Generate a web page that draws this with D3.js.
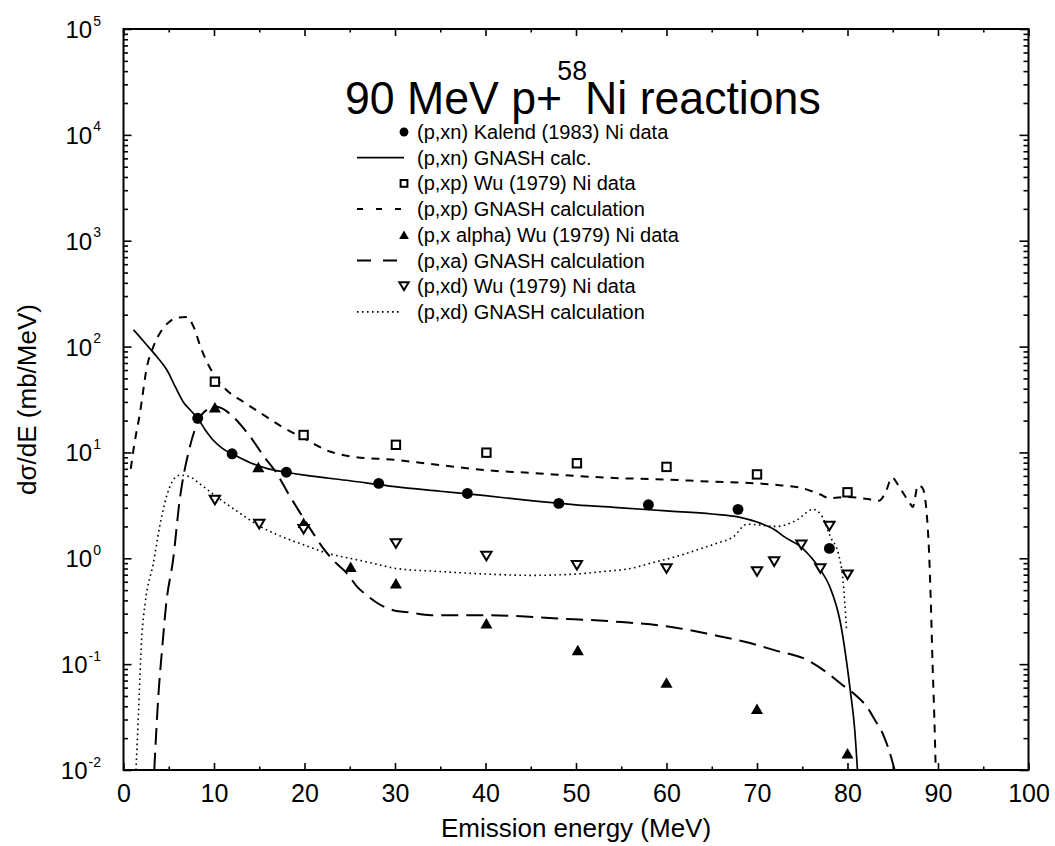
<!DOCTYPE html>
<html><head><meta charset="utf-8">
<script src="https://cdn.jsdelivr.net/npm/d3@7/dist/d3.min.js"></script>
<style>
body{margin:0;background:#fff;}
text{font-family:"Liberation Sans",Arial,Helvetica,sans-serif;fill:#000;}
</style>
</head><body>
<svg id="c" width="1055" height="846"></svg>
<script>
// ---- data ----
// (p,xn) Kalend (1983) Ni data
const knE = [8.2, 12, 18, 28.2, 38, 48.1, 58, 67.9, 78];
const knV = [21, 9.7, 6.5, 5.1, 4.1, 3.3, 3.2, 2.9, 1.24];
// (p,xp) Wu (1979)
const wpE = [10.1, 19.9, 30.1, 40.1, 50.1, 60, 70, 80];
const wpV = [46.6, 14.6, 11.8, 9.95, 7.9, 7.3, 6.2, 4.2];
// (p,x alpha) Wu (1979)
const waE = [10.1, 14.9, 19.9, 25.1, 30.1, 40.1, 50.2, 60, 70, 80];
const waV = [26.7, 7.3, 2.17, 0.83, 0.58, 0.243, 0.136, 0.067, 0.038, 0.0144];
// (p,xd) Wu (1979)
const wdE = [10.1, 15, 19.9, 30.1, 40.1, 50.1, 60, 70, 71.9, 74.9, 77, 78, 80];
const wdV = [3.55, 2.1, 1.88, 1.38, 1.05, 0.86, 0.80, 0.75, 0.93, 1.34, 0.80, 2.02, 0.70];

// GNASH calculations
const gnE = [1.1,2,2.9,3.8,4.8,5.7,6.6,7.4,8.2,9,9.9,11,12,14,16,18,20,25,30,35,40,45,50,55,60,65,68,70,72,73,75,77,78,79.2,80.3,80.8,81.1];
const gnV = [144,118,96,78,60,42,30,25,21,16.5,13.1,10.8,9.7,8,7,6.5,6.1,5.4,4.75,4.3,3.9,3.5,3.2,3.0,2.8,2.62,2.45,2.2,1.85,1.6,1.25,0.78,0.55,0.25,0.057,0.024,0.01];

const gpE = [0.8,1.2,1.8,2.6,3.3,4,5,6,7,7.8,8.5,10,11.5,13,15,17.5,20,22.8,25,30,35,40,45,50,55,58.5,65,70,72.5,75,77,78,80,82,83.5,84.3,84.9,85.8,86.9,87.2,87.8,88.3,88.75,89.0,89.2,89.4,89.6,89.75];
const gpV = [7,12,23,65,100,133,170,188,190,150,100,54,38,31,24,17.5,13.5,10.2,9.2,8.5,7.6,6.8,6.4,6.0,5.7,5.6,5.3,5.1,4.9,4.6,4.0,3.7,3.8,3.65,3.5,4.4,5.8,4.6,3.3,3.05,4.9,4.6,2.66,1.2,0.4,0.1,0.03,0.01];

const gaE = [3.4,3.85,4.3,4.7,5.5,6.2,7.3,8.4,9.5,10.3,11.8,13,14.3,15.5,16.9,18.2,19.5,21,22.2,23.5,24.7,25.8,27,28,30,31.3,34,40,48,55,60,65,69,72,75.5,78,79.2,81,82.1,83,84,84.9,85.2];
const gaV = [0.01,0.05,0.15,0.36,1.0,3.5,11,21,26,27,23,18,13,9.2,6.4,4.1,2.7,1.7,1.2,0.9,0.72,0.54,0.44,0.38,0.32,0.31,0.29,0.29,0.27,0.25,0.228,0.19,0.16,0.135,0.11,0.08,0.066,0.05,0.04,0.03,0.021,0.0125,0.01];

const gdE = [1.38,1.64,2.0,2.4,3.3,4.0,5.1,6.2,7.3,8.5,10.3,12.5,15.1,17.5,19.5,22.8,25,27.5,30.2,35,40,45,50,53,56,58.9,60,62,64,65.5,67.4,68.9,70.5,72.2,74.4,76.2,77.3,78.1,79,79.5,79.9];
const gdV = [0.01,0.032,0.17,0.38,0.9,2.0,4.7,6.1,5.9,5.0,3.8,2.8,2.0,1.6,1.38,1.1,1.0,0.9,0.8,0.75,0.71,0.69,0.71,0.75,0.8,0.93,0.98,1.1,1.25,1.38,1.6,2.1,2.05,2.0,2.3,2.9,2.4,1.6,1.1,0.62,0.21];

// ticks
const xMajor = [0,10,20,30,40,50,60,70,80,90,100];
const xMinor = [5,15,25,35,45,55,65,75,85,95];
const yExp = [-2,-1,0,1,2,3,4,5];
const yMajor = yExp.map(e => Math.pow(10, e));
const yMinor = [];
yExp.slice(0, -1).forEach(e => { for (let k = 2; k <= 9; k++) yMinor.push(k * Math.pow(10, e)); });

const legendLabels = [
  "(p,xn) Kalend (1983) Ni data",
  "(p,xn) GNASH calc.",
  "(p,xp) Wu (1979) Ni data",
  "(p,xp) GNASH calculation",
  "(p,x alpha) Wu (1979) Ni data",
  "(p,xa) GNASH calculation",
  "(p,xd) Wu (1979) Ni data",
  "(p,xd) GNASH calculation"
];

// ---- drawing ----
const L = 123.5, R = 1028.5, T = 29, B = 770;
const x = d3.scaleLinear().domain([0, 100]).range([L, R]);
const y = d3.scaleLog().domain([1e-2, 1e5]).range([B, T]);
const svg = d3.select("#c");

svg.append("defs").append("clipPath").attr("id", "clip")
  .append("rect").attr("x", L).attr("y", T).attr("width", R - L).attr("height", B - T);

function axisStyle(g) {
  g.select(".domain").remove();
  g.selectAll(".tick line").attr("stroke", "#000").attr("stroke-width", 1.6);
}

// bottom
svg.append("g").attr("transform", `translate(0,${B})`)
  .call(d3.axisBottom(x).tickValues(xMajor).tickSize(-7).tickSizeOuter(0).tickPadding(14).tickFormat(d => d))
  .call(axisStyle)
  .call(g => g.selectAll(".tick text").attr("font-size", 25).attr("font-family", "Liberation Sans, Arial, sans-serif"));
svg.append("g").attr("transform", `translate(0,${B})`)
  .call(d3.axisBottom(x).tickValues(xMinor).tickSize(-3.5).tickSizeOuter(0).tickFormat(""))
  .call(axisStyle);
// top
svg.append("g").attr("transform", `translate(0,${T})`)
  .call(d3.axisTop(x).tickValues(xMajor).tickSize(-7).tickSizeOuter(0).tickFormat(""))
  .call(axisStyle);
svg.append("g").attr("transform", `translate(0,${T})`)
  .call(d3.axisTop(x).tickValues(xMinor).tickSize(-3.5).tickSizeOuter(0).tickFormat(""))
  .call(axisStyle);
// left
const gl = svg.append("g").attr("transform", `translate(${L},0)`)
  .call(d3.axisLeft(y).tickValues(yMajor).tickSize(-8).tickSizeOuter(0).tickFormat(""))
  .call(axisStyle);
svg.append("g").attr("transform", `translate(${L},0)`)
  .call(d3.axisLeft(y).tickValues(yMinor).tickSize(-4.5).tickSizeOuter(0).tickFormat(""))
  .call(axisStyle);
gl.selectAll(".tick text").remove();
gl.selectAll(".tick").each(function(d) {
  const e = Math.round(Math.log10(d));
  const t = d3.select(this).append("text").attr("x", -22.5).attr("y", 8.5)
    .attr("text-anchor", "end").attr("font-size", 24).attr("fill", "#000");
  t.append("tspan").text("10");
  t.append("tspan").attr("dx", 1).attr("dy", -12.5).attr("font-size", 14).text(String(e));
});
// right
svg.append("g").attr("transform", `translate(${R},0)`)
  .call(d3.axisRight(y).tickValues(yMajor).tickSize(-9).tickSizeOuter(0).tickFormat(""))
  .call(axisStyle);
svg.append("g").attr("transform", `translate(${R},0)`)
  .call(d3.axisRight(y).tickValues(yMinor).tickSize(-5).tickSizeOuter(0).tickFormat(""))
  .call(axisStyle);

// frame
svg.append("rect").attr("x", L).attr("y", T).attr("width", R - L).attr("height", B - T)
  .attr("fill", "none").attr("stroke", "#000").attr("stroke-width", 2);

// curves
const zip = (a, b) => a.map((v, i) => [v, b[i]]);
const line = d3.line().x(d => x(d[0])).y(d => y(d[1])).curve(d3.curveMonotoneX);
const plot = svg.append("g").attr("clip-path", "url(#clip)");
const curves = [
  {d: zip(gnE, gnV), dash: null, w: 1.7},
  {d: zip(gpE, gpV), dash: "8,7", w: 2},
  {d: zip(gaE, gaV), dash: "17,8", w: 2},
  {d: zip(gdE, gdV), dash: "1.6,3.4", w: 1.6}
];
curves.forEach(c => {
  plot.append("path").attr("d", line(c.d)).attr("fill", "none").attr("stroke", "#000")
    .attr("stroke-width", c.w).attr("stroke-dasharray", c.dash);
});

// markers
function circle(g, cx, cy, s) { g.append("circle").attr("cx", cx).attr("cy", cy).attr("r", s * 0.52).attr("fill", "#000"); }
function square(g, cx, cy, s) { const a = s * 0.8; g.append("rect").attr("x", cx - a / 2).attr("y", cy - a / 2).attr("width", a).attr("height", a).attr("fill", "#fff").attr("stroke", "#000").attr("stroke-width", 2); }
function triUp(g, cx, cy, s) { const w = s * 1.15, h = s; g.append("path").attr("d", `M${cx - w / 2},${cy + h / 2}L${cx + w / 2},${cy + h / 2}L${cx},${cy - h / 2}Z`).attr("fill", "#000"); }
function triDown(g, cx, cy, s) { const w = s * 0.98, h = s * 0.82; g.append("path").attr("d", `M${cx - w / 2},${cy - h / 2}L${cx + w / 2},${cy - h / 2}L${cx},${cy + h / 2}Z`).attr("fill", "#fff").attr("stroke", "#000").attr("stroke-width", 2); }

const mg = svg.append("g");
const sets = [
  {E: knE, V: knV, f: circle},
  {E: wpE, V: wpV, f: square},
  {E: waE, V: waV, f: triUp},
  {E: wdE, V: wdV, f: triDown}
];
sets.forEach(s => s.E.forEach((e, i) => s.f(mg, x(e), y(s.V[i]), 10.5)));

// legend
const lg = svg.append("g");
const rowY = i => 132 + i * 25.7;
const legendDraw = [
  g => circle(g, 404, rowY(0), 8.5),
  g => g.append("line").attr("x1", 357).attr("x2", 404).attr("y1", rowY(1)).attr("y2", rowY(1)).attr("stroke", "#000").attr("stroke-width", 1.7),
  g => square(g, 404, rowY(2), 8.5),
  g => g.append("line").attr("x1", 357).attr("x2", 401).attr("y1", rowY(3)).attr("y2", rowY(3)).attr("stroke", "#000").attr("stroke-width", 2).attr("stroke-dasharray", "6,13"),
  g => triUp(g, 404, rowY(4), 8.5),
  g => g.append("line").attr("x1", 357).attr("x2", 401).attr("y1", rowY(5)).attr("y2", rowY(5)).attr("stroke", "#000").attr("stroke-width", 2).attr("stroke-dasharray", "14,12"),
  g => triDown(g, 404, rowY(6), 9.5),
  g => g.append("line").attr("x1", 357).attr("x2", 402).attr("y1", rowY(7)).attr("y2", rowY(7)).attr("stroke", "#000").attr("stroke-width", 1.6).attr("stroke-dasharray", "1.6,3.4")
];
legendLabels.forEach((lab, i) => {
  legendDraw[i](lg);
  lg.append("text").attr("x", 417).attr("y", rowY(i) + 7).attr("font-size", 20).text(lab);
});

// title (slightly condensed, as in the original)
const tt = svg.append("text").attr("transform", "translate(345,114) scale(0.95,1)").attr("font-size", 47);
tt.append("tspan").text("90 MeV p+");
tt.append("tspan").attr("dx", -5).attr("dy", -34).attr("font-size", 28).text("58");
tt.append("tspan").attr("dx", -2).attr("dy", 34).text("Ni reactions");

// axis titles
svg.append("text").attr("x", (L + R) / 2).attr("y", 837).attr("text-anchor", "middle")
  .attr("font-size", 26).text("Emission energy (MeV)");
svg.append("text").attr("transform", `translate(36,${(T + B) / 2}) rotate(-90)`)
  .attr("text-anchor", "middle").attr("font-size", 26).text("dσ/dE (mb/MeV)");
</script>
</body></html>
